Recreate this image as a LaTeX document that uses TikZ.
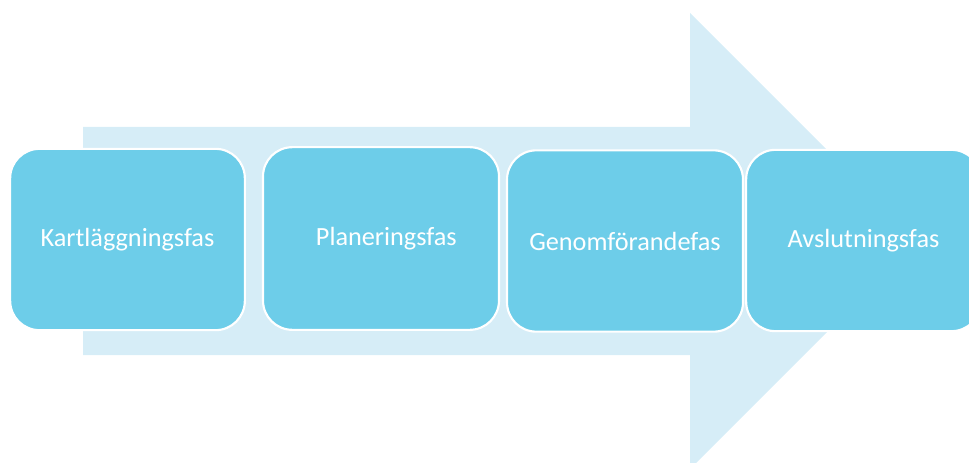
\documentclass[tikz,border=0pt]{standalone}
\usepackage{fontspec}
\setmainfont{Carlito}
\usepackage{tikz}
\usetikzlibrary{calc}

\definecolor{pilljus}{RGB}{214,237,247}
\definecolor{fasbla}{RGB}{109,205,233}

\begin{document}
\begin{tikzpicture}[x=0.75pt,y=-0.75pt,
   fas/.style={draw=white, line width=1.6pt, fill=fasbla, rounded corners=22pt,
      minimum height=136pt, text=white, font=\fontsize{19.7}{24}\selectfont}]
	% Ram
\useasboundingbox (0,0) rectangle (969,463);
\clip (0,0) rectangle (969,463);

   % Pil i bakgrunden
   \path[fill=pilljus] (83,127) -- (690,127) -- (690,13) -- (918,241)
      -- (690,469) -- (690,355) -- (83,355) -- cycle;

   \node[fas, minimum width=176pt] (fas_1) at (127.5,239.5) {Kartläggningsfas};
   \node[fas, minimum width=177pt, minimum height=137pt] (fas_2) at (381,238.5) {\hspace{8pt}Planeringsfas};
   \node[fas, minimum width=177pt] (fas_3) at (625,241) {Genomförandefas};
   \node[fas, minimum width=176pt] (fas_4) at (863.5,240.5) {Avslutningsfas};

   \end{tikzpicture}
\end{document}
